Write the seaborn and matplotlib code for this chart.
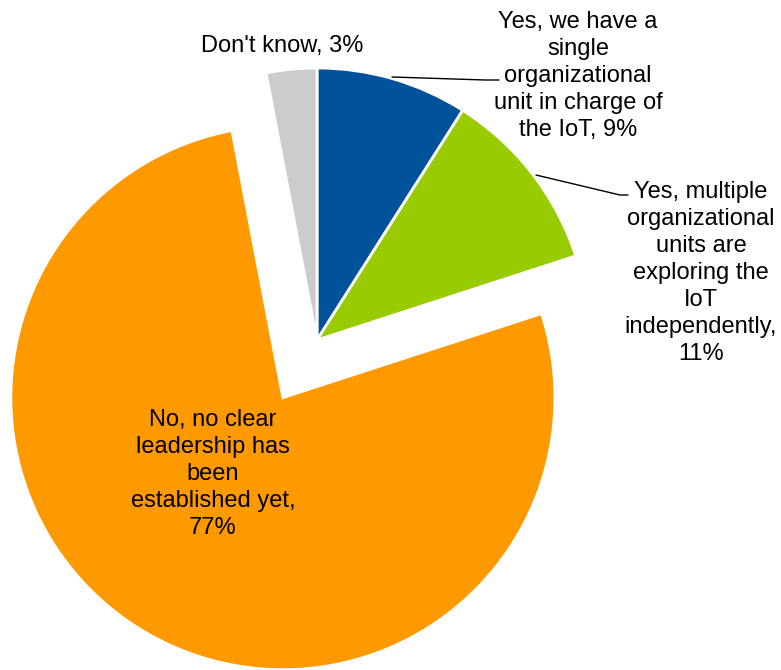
import matplotlib
matplotlib.use("Agg")
import matplotlib.pyplot as plt
import seaborn as sns

categories = [
    "Yes, we have a\nsingle\norganizational\nunit in charge of\nthe IoT",
    "Yes, multiple\norganizational\nunits are\nexploring the\nIoT\nindependently",
    "No, no clear\nleadership has\nbeen\nestablished yet",
    "Don't know",
]
values = [9, 11, 77, 3]
colors = ["#00529B", "#99CC00", "#FF9900", "#CCCCCC"]
percent_on_new_line = [False, True, True, False]

sns.set_theme(style="white")
plt.rcParams["font.family"] = ["Liberation Sans", "DejaVu Sans"]

W, H = 781, 670
fig = plt.figure(figsize=(W / 100, H / 100), dpi=100)
ax = fig.add_axes([0, 0, 1, 1])

R = 272
palette = sns.color_palette(colors)
wedges, _ = ax.pie(
    values,
    colors=palette,
    startangle=90,
    counterclock=False,
    explode=[0, 0, 67, 0],
    radius=R,
    center=(317, H - 340),
    wedgeprops=dict(edgecolor="white", linewidth=2),
    frame=True,
)
ax.set_xlim(0, W)
ax.set_ylim(0, H)
ax.set_aspect("equal")
ax.axis("off")

labels = [f"{c},{chr(10) if nl else ' '}{v}%"
          for c, v, nl in zip(categories, values, percent_on_new_line)]
label_pos = [(578, 76), (701, 273), (213, 474), (282, 46)]
fs = 17
for lab, (x, y) in zip(labels, label_pos):
    ax.text(x, H - y, lab, ha="center", va="center", fontsize=fs,
            color="black", linespacing=1.3, multialignment="center")

# leader lines
ax.plot([392, 485, 499], [H - 77, H - 80, H - 80], color="black", lw=1)
ax.plot([536, 620, 628], [H - 175, H - 195, H - 195], color="black", lw=1)

fig.savefig("out.png", dpi=100)
